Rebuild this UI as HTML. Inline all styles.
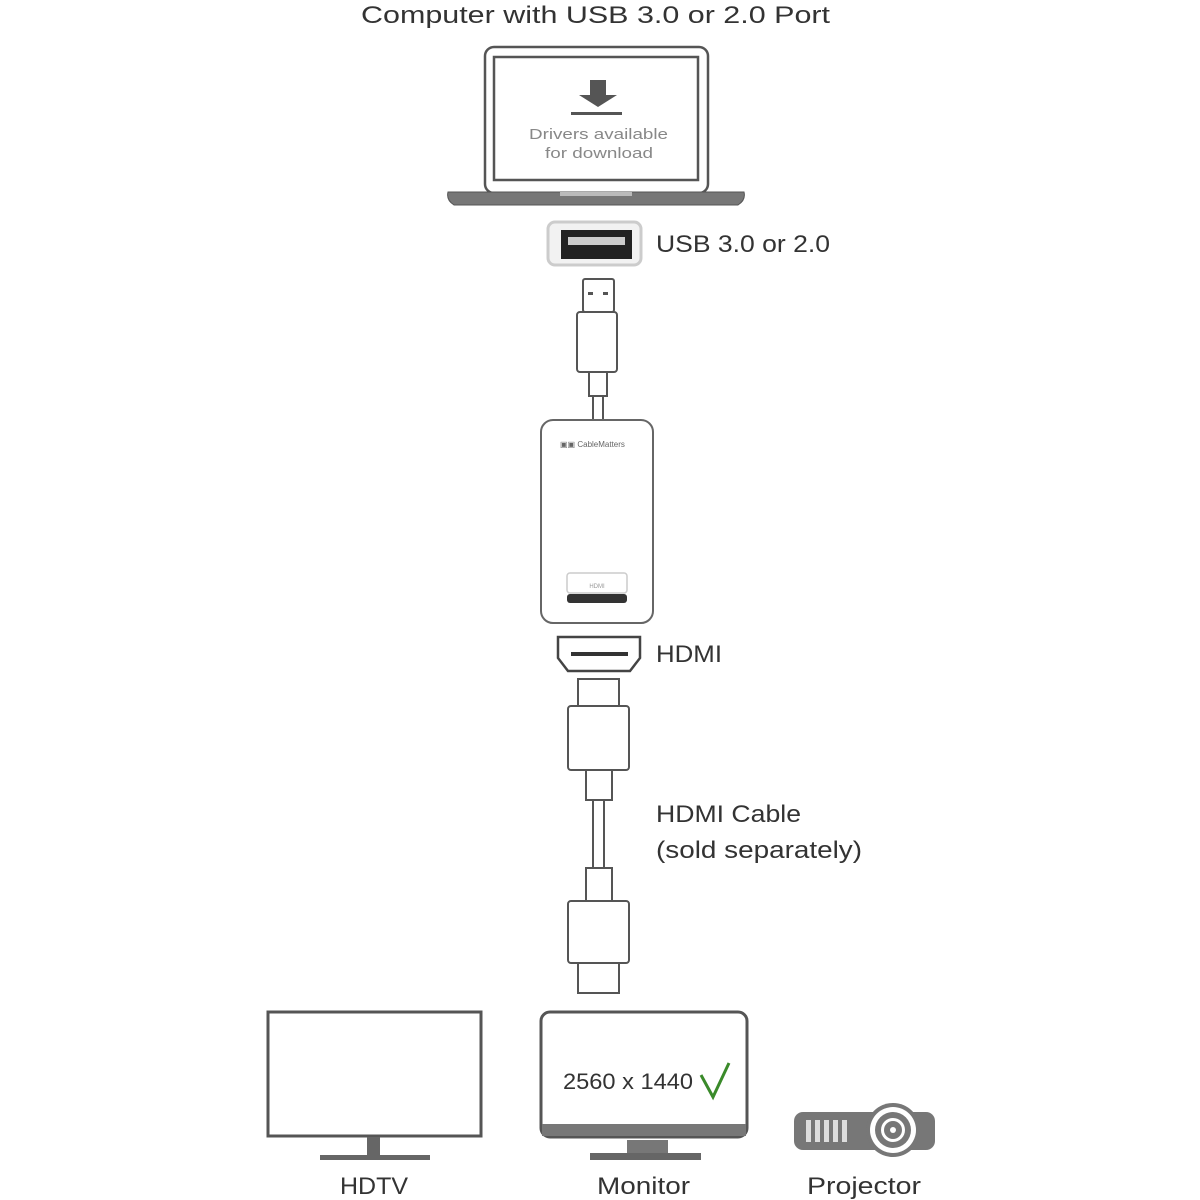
<!DOCTYPE html>
<html><head><meta charset="utf-8"><style>
html,body{margin:0;padding:0;background:#fff;}
svg{display:block;}
text{font-family:"Liberation Sans",sans-serif;fill:#333;}
</style></head><body>
<svg width="1200" height="1200" viewBox="0 0 1200 1200" xmlns="http://www.w3.org/2000/svg">
<text x="361" y="23" font-size="24" textLength="469" lengthAdjust="spacingAndGlyphs">Computer with USB 3.0 or 2.0 Port</text>
<!-- laptop -->
<rect x="485" y="47" width="223" height="146" rx="9" fill="#fff" stroke="#555" stroke-width="2.5"/>
<rect x="494" y="57" width="204" height="123" fill="#fff" stroke="#555" stroke-width="2.5"/>
<path d="M448 192 H744 Q746 200 738 205 H454 Q446 200 448 192Z" fill="#777" stroke="#555" stroke-width="1"/>
<rect x="560" y="192" width="72" height="4" fill="#bbb"/>
<path d="M590 80 H606 V95 L617 95 L598 107 L579 95 L590 95Z" fill="#555"/>
<rect x="571" y="112" width="51" height="3" fill="#555"/>
<text x="529" y="139" font-size="15" textLength="139" lengthAdjust="spacingAndGlyphs" style="fill:#888">Drivers available</text>
<text x="545" y="158" font-size="15" textLength="108" lengthAdjust="spacingAndGlyphs" style="fill:#888">for download</text>
<!-- usb port -->
<rect x="548" y="222" width="93" height="43" rx="7" fill="#f2f2f2" stroke="#ccc" stroke-width="3"/>
<rect x="561" y="230" width="71" height="29" fill="#222"/>
<rect x="568" y="237" width="57" height="8" fill="#ccc"/>
<text x="656" y="252" font-size="24" textLength="174" lengthAdjust="spacingAndGlyphs">USB 3.0 or 2.0</text>
<!-- usb plug -->
<rect x="583" y="279" width="31" height="33" rx="2" fill="#fff" stroke="#555" stroke-width="2"/>
<rect x="588" y="292" width="5" height="3" fill="#555"/><rect x="603" y="292" width="5" height="3" fill="#555"/>
<rect x="577" y="312" width="40" height="60" rx="3" fill="#fff" stroke="#555" stroke-width="2"/>
<rect x="589" y="372" width="18" height="24" fill="#fff" stroke="#555" stroke-width="2"/>
<rect x="593" y="396" width="10" height="25" fill="#fff" stroke="#555" stroke-width="2"/>
<!-- adapter -->
<rect x="541" y="420" width="112" height="203" rx="12" fill="#fff" stroke="#666" stroke-width="2"/>
<text x="560" y="447" font-size="8" style="fill:#666">▣▣ CableMatters</text>
<rect x="567" y="573" width="60" height="20" rx="3" fill="#fff" stroke="#ccc" stroke-width="1.5"/>
<text x="597" y="588" font-size="6" text-anchor="middle" style="fill:#999">HDMI</text>
<rect x="567" y="594" width="60" height="9" rx="3" fill="#333"/>
<!-- hdmi port -->
<path d="M558 637 H640 V658 L630 671 H568 L558 658Z" fill="#fff" stroke="#444" stroke-width="2.5"/>
<rect x="571" y="652" width="57" height="4" fill="#333"/>
<text x="656" y="662" font-size="24" textLength="66" lengthAdjust="spacingAndGlyphs">HDMI</text>
<!-- hdmi cable -->
<rect x="578" y="679" width="41" height="27" fill="#fff" stroke="#555" stroke-width="2"/>
<rect x="568" y="706" width="61" height="64" rx="3" fill="#fff" stroke="#555" stroke-width="2"/>
<rect x="586" y="770" width="26" height="30" fill="#fff" stroke="#555" stroke-width="2"/>
<rect x="593" y="800" width="11" height="68" fill="#fff" stroke="#555" stroke-width="2"/>
<rect x="586" y="868" width="26" height="33" fill="#fff" stroke="#555" stroke-width="2"/>
<rect x="568" y="901" width="61" height="62" rx="3" fill="#fff" stroke="#555" stroke-width="2"/>
<rect x="578" y="963" width="41" height="30" fill="#fff" stroke="#555" stroke-width="2"/>
<text x="656" y="822" font-size="24" textLength="145" lengthAdjust="spacingAndGlyphs">HDMI Cable</text>
<text x="656" y="858" font-size="24" textLength="206" lengthAdjust="spacingAndGlyphs">(sold separately)</text>
<!-- HDTV -->
<rect x="268" y="1012" width="213" height="124" fill="#fff" stroke="#555" stroke-width="3"/>
<rect x="367" y="1137" width="13" height="19" fill="#666"/>
<rect x="320" y="1155" width="110" height="5" fill="#666"/>
<text x="340" y="1194" font-size="24" textLength="68" lengthAdjust="spacingAndGlyphs">HDTV</text>
<!-- Monitor -->
<rect x="541" y="1012" width="206" height="125" rx="9" fill="#fff" stroke="#555" stroke-width="3"/>
<rect x="542" y="1124" width="204" height="12" fill="#777"/>
<rect x="627" y="1140" width="41" height="13" fill="#777"/>
<rect x="590" y="1153" width="111" height="7" fill="#666"/>
<text x="563" y="1089" font-size="22" textLength="130" lengthAdjust="spacingAndGlyphs">2560 x 1440</text>
<path d="M701 1075 L713 1097 L729 1063" fill="none" stroke="#3a8a2a" stroke-width="3"/>
<text x="597" y="1194" font-size="24" textLength="93" lengthAdjust="spacingAndGlyphs">Monitor</text>
<!-- Projector -->
<rect x="794" y="1112" width="141" height="38" rx="9" fill="#777"/>
<rect x="806" y="1120" width="5" height="22" fill="#ddd"/><rect x="815" y="1120" width="5" height="22" fill="#ddd"/>
<rect x="824" y="1120" width="5" height="22" fill="#ddd"/><rect x="833" y="1120" width="5" height="22" fill="#ddd"/>
<rect x="842" y="1120" width="5" height="22" fill="#ddd"/>
<circle cx="893" cy="1130" r="27" fill="#777"/>
<circle cx="893" cy="1130" r="23" fill="#fff"/>
<circle cx="893" cy="1130" r="18" fill="#777"/>
<circle cx="893" cy="1130" r="12" fill="#fff"/>
<circle cx="893" cy="1130" r="9" fill="#777"/>
<circle cx="893" cy="1130" r="3" fill="#fff"/>
<text x="807" y="1194" font-size="24" textLength="114" lengthAdjust="spacingAndGlyphs">Projector</text>
</svg>
</body></html>
